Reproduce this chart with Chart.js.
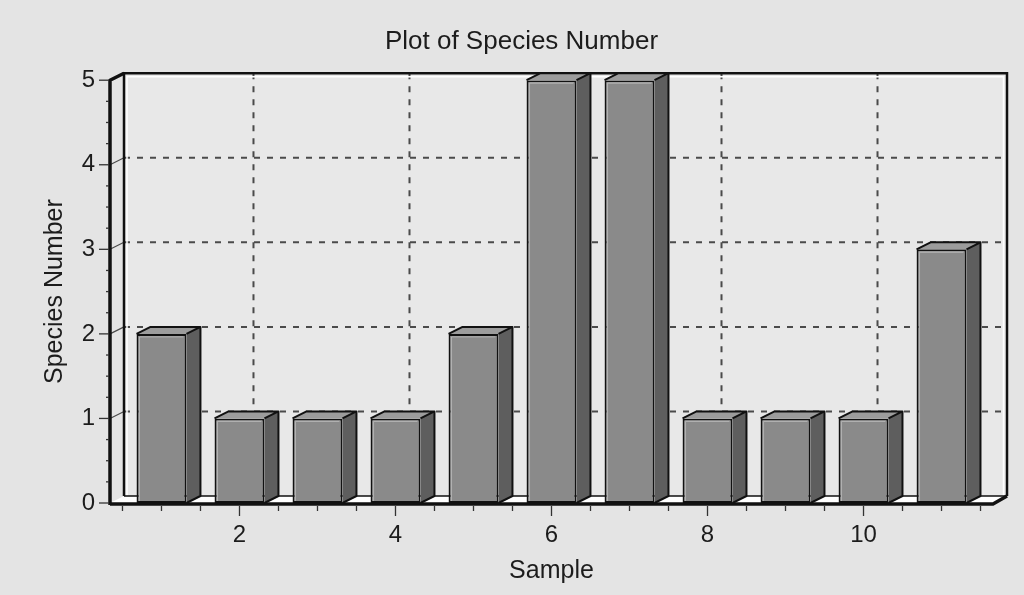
<!DOCTYPE html>
<html>
<head>
<meta charset="utf-8">
<script src="https://cdn.jsdelivr.net/npm/chart.js"></script>
<style>
html,body{margin:0;padding:0;background:#e4e4e4;}
#wrap{width:1024px;height:595px;position:relative;}
canvas{display:block;}
</style>
</head>
<body>
<div id="wrap"><canvas id="c" width="1024" height="595"></canvas></div>
<script>
// ---- data ----
const samples = [1, 2, 3, 4, 5, 6, 7, 8, 9, 10, 11];
const speciesNumber = [2, 1, 1, 1, 2, 5, 5, 1, 1, 1, 3];
const xTickValues = [2, 4, 6, 8, 10];
const yTickValues = [0, 1, 2, 3, 4, 5];
const chartTitle = 'Plot of Species Number';
const xTitle = 'Sample';
const yTitle = 'Species Number';

// ---- style ----
const FONT = 'Liberation Sans, Arial, Helvetica, sans-serif';
const TEXT = '#1c1c1c';
const BG = '#e4e4e4';
const DX = 14, DY = -7;   // 3D depth offset

const depthPlugin = {
  id: 'depth3d',
  beforeDraw(chart) {
    const ctx = chart.ctx;
    ctx.save();
    ctx.fillStyle = BG;
    ctx.fillRect(0, 0, chart.width, chart.height);
    ctx.restore();
  },
  beforeDatasetsDraw(chart) {
    const ctx = chart.ctx;
    const xs = chart.scales.x, ys = chart.scales.y;
    const x0 = xs.left, x1 = xs.right;
    const yB = ys.getPixelForValue(ys.min), yT = ys.getPixelForValue(ys.max);
    ctx.save();
    // back wall
    ctx.fillStyle = '#e8e8e8';
    ctx.fillRect(x0 + DX, yT + DY, x1 - x0, yB - yT);
    // horizontal dashed grid on back wall + left wall diagonals
    ctx.lineWidth = 2;
    ctx.strokeStyle = '#4a4a4a';
    yTickValues.forEach(v => {
      if (v === ys.min || v === ys.max) return;
      const y = ys.getPixelForValue(v);
      ctx.setLineDash([6, 7]);
      ctx.beginPath();
      ctx.moveTo(x0 + DX, y + DY);
      ctx.lineTo(x1 + DX, y + DY);
      ctx.stroke();
      ctx.setLineDash([]);
      ctx.lineWidth = 1.2;
      ctx.beginPath();
      ctx.moveTo(x0, y);
      ctx.lineTo(x0 + DX, y + DY);
      ctx.stroke();
      ctx.lineWidth = 2;
    });
    // vertical dashed grid
    ctx.setLineDash([6, 7]);
    xTickValues.forEach(v => {
      const x = xs.getPixelForValue(v);
      ctx.beginPath();
      ctx.moveTo(x + DX, yT + DY);
      ctx.lineTo(x + DX, yB + DY);
      ctx.stroke();
    });
    ctx.setLineDash([]);
    // floor
    ctx.fillStyle = '#ffffff';
    ctx.beginPath();
    ctx.moveTo(x0, yB);
    ctx.lineTo(x1, yB);
    ctx.lineTo(x1 + DX, yB + DY);
    ctx.lineTo(x0 + DX, yB + DY);
    ctx.closePath();
    ctx.fill();
    // back wall border
    ctx.strokeStyle = '#ffffff';
    ctx.lineWidth = 1.5;
    ctx.beginPath();
    ctx.moveTo(x0 + DX + 3, yB + DY);
    ctx.lineTo(x0 + DX + 3, yT + DY + 3.5);
    ctx.lineTo(x1 + DX - 3.5, yT + DY + 3.5);
    ctx.lineTo(x1 + DX - 3.5, yB + DY);
    ctx.stroke();
    ctx.strokeStyle = '#111';
    ctx.lineWidth = 2.5;
    ctx.beginPath();
    ctx.moveTo(x0 + DX, yB + DY);
    ctx.lineTo(x0 + DX, yT + DY);
    ctx.lineTo(x1 + DX, yT + DY);
    ctx.lineTo(x1 + DX, yB + DY);
    ctx.stroke();
    ctx.lineWidth = 1.5;
    ctx.beginPath();
    ctx.moveTo(x0 + DX, yB + DY);
    ctx.lineTo(x1 + DX, yB + DY);
    ctx.stroke();
    ctx.restore();
  },
  afterDatasetsDraw(chart) {
    const ctx = chart.ctx;
    const xs = chart.scales.x, ys = chart.scales.y;
    const x0 = xs.left, x1 = xs.right;
    const yB = ys.getPixelForValue(ys.min), yT = ys.getPixelForValue(ys.max);
    ctx.save();
    ctx.lineJoin = 'round';
    const meta = chart.getDatasetMeta(0);
    meta.data.forEach(el => {
      const p = el.getProps(['x', 'y', 'base', 'width'], true);
      const l = p.x - p.width / 2, r = p.x + p.width / 2, t = p.y, b = p.base;
      // side
      ctx.fillStyle = '#5e5e5e';
      ctx.beginPath();
      ctx.moveTo(r, t);
      ctx.lineTo(r + DX, t + DY);
      ctx.lineTo(r + DX, b + DY);
      ctx.lineTo(r, b);
      ctx.closePath();
      ctx.fill();
      // top
      ctx.fillStyle = '#9c9c9c';
      ctx.beginPath();
      ctx.moveTo(l, t);
      ctx.lineTo(l + DX, t + DY);
      ctx.lineTo(r + DX, t + DY);
      ctx.lineTo(r, t);
      ctx.closePath();
      ctx.fill();
      ctx.strokeStyle = '#111';
      ctx.lineWidth = 2;
      ctx.beginPath();
      ctx.moveTo(l, t);
      ctx.lineTo(l + DX, t + DY);
      ctx.lineTo(r + DX, t + DY);
      ctx.lineTo(r + DX, b + DY);
      ctx.lineTo(r, b);
      ctx.moveTo(r, t);
      ctx.lineTo(r + DX, t + DY);
      ctx.stroke();
      // light inner highlight on front face
      ctx.strokeStyle = 'rgba(255,255,255,0.35)';
      ctx.lineWidth = 1;
      ctx.beginPath();
      ctx.moveTo(l + 3, b - 2);
      ctx.lineTo(l + 3, t + 3);
      ctx.lineTo(r - 3, t + 3);
      ctx.stroke();
    });
    // front axes
    ctx.strokeStyle = '#111';
    ctx.lineWidth = 3.5;
    ctx.beginPath();
    ctx.moveTo(x0 + DX, yT + DY);
    ctx.lineTo(x0, yT);
    ctx.lineTo(x0, yB + 2);
    ctx.stroke();
    ctx.beginPath();
    ctx.moveTo(x0, yB + 1);
    ctx.lineTo(x1, yB + 1);
    ctx.lineTo(x1 + DX, yB + DY);
    ctx.stroke();
    // y ticks (major + minor)
    ctx.lineWidth = 1.3;
    ctx.strokeStyle = '#333';
    for (let i = 0; i <= (ys.max - ys.min) * 4; i++) {
      const v = ys.min + i * 0.25;
      const y = ys.getPixelForValue(v);
      const major = yTickValues.includes(v);
      ctx.beginPath();
      ctx.moveTo(x0 - (major ? 11 : 4), y);
      ctx.lineTo(x0 - 1, y);
      ctx.stroke();
    }
    // x ticks (major + minor)
    for (let v = Math.ceil(xs.min * 2) / 2; v <= xs.max; v += 0.5) {
      const x = xs.getPixelForValue(v);
      const major = xTickValues.includes(v);
      ctx.beginPath();
      ctx.moveTo(x, yB + 3);
      ctx.lineTo(x, yB + (major ? 13 : 8));
      ctx.stroke();
    }
    ctx.restore();
  }
};

new Chart(document.getElementById('c'), {
  type: 'bar',
  data: {
    datasets: [{
      label: yTitle,
      data: samples.map((s, i) => ({ x: s, y: speciesNumber[i] })),
      backgroundColor: '#8a8a8a',
      borderColor: '#111',
      borderWidth: 2,
      borderSkipped: false,
      barPercentage: 0.64,
      categoryPercentage: 1.0
    }]
  },
  options: {
    responsive: false,
    animation: false,
    devicePixelRatio: 1,
    layout: { padding: { left: 50, right: 31, top: 0, bottom: 0 } },
    plugins: {
      legend: { display: false },
      tooltip: { enabled: false },
      title: {
        display: true,
        text: chartTitle,
        color: TEXT,
        font: { family: FONT, size: 26, weight: 'normal' },
        padding: { top: 26, bottom: 23 }
      }
    },
    scales: {
      x: {
        type: 'linear',
        offset: false,
        min: 0.34,
        max: 11.66,
        afterBuildTicks: s => { s.ticks = xTickValues.map(v => ({ value: v })); },
        afterFit: s => { s.height = 92; },
        grid: { display: false, drawTicks: false, offset: false },
        border: { display: false },
        ticks: { color: TEXT, font: { family: FONT, size: 24 }, padding: 18, maxRotation: 0, autoSkip: false },
        title: { display: true, text: xTitle, color: TEXT, font: { family: FONT, size: 25 }, padding: { top: 0, bottom: 9 } }
      },
      y: {
        min: 0,
        max: 5,
        afterBuildTicks: s => { s.ticks = yTickValues.map(v => ({ value: v })); },
        afterFit: s => { s.width = 60; },
        grid: { display: false, drawTicks: false },
        border: { display: false },
        ticks: { color: TEXT, font: { family: FONT, size: 24 }, padding: 15 },
        title: { display: true, text: yTitle, color: TEXT, font: { family: FONT, size: 25 }, padding: { top: -10, bottom: 0 } }
      }
    }
  },
  plugins: [depthPlugin]
});
</script>
</body>
</html>
